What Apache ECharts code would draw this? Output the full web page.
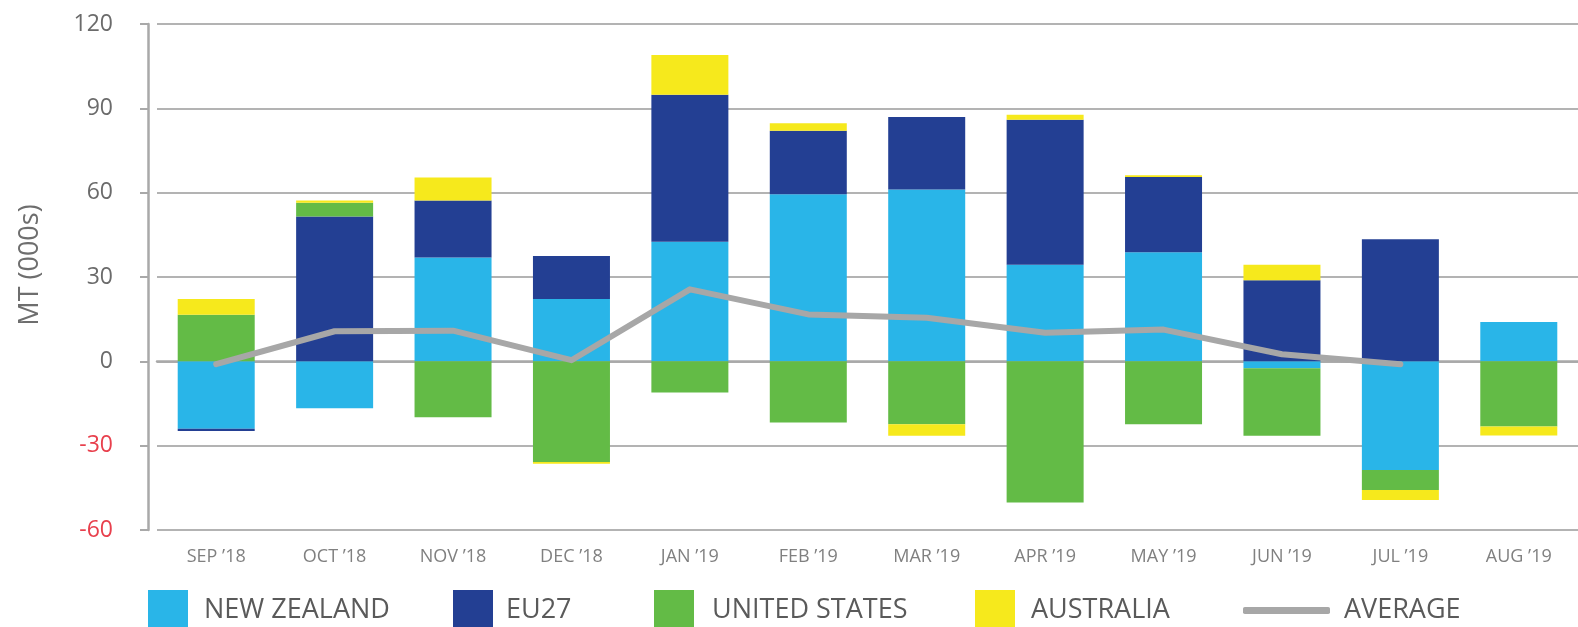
<!DOCTYPE html>
<html>
<head>
<meta charset="utf-8">
<script src="https://cdn.jsdelivr.net/npm/echarts@6/dist/echarts.min.js"></script>
<style>
  html, body { margin: 0; padding: 0; background: #fff; }
  #chart { width: 1578px; height: 627px; }
</style>
</head>
<body>
<div id="chart"></div>
<script>
// months on the x axis
var months = ['SEP ’18', 'OCT ’18', 'NOV ’18', 'DEC ’18', 'JAN ’19', 'FEB ’19',
  'MAR ’19', 'APR ’19', 'MAY ’19', 'JUN ’19', 'JUL ’19', 'AUG ’19']

// MT (000s)
var newZealand = [-24, -16.7, 36.9, 22.2, 42.5, 59.4, 61.1, 34.4, 38.8, -2.5, -38.7, 14]
var eu27 = [-0.8, 51.5, 20.3, 15.3, 52.3, 22.6, 25.8, 51.5, 26.8, 28.8, 43.4, 0]
var unitedStates = [16.6, 4.9, -19.9, -35.8, -11.1, -21.8, -22.4, -50.2, -22.4, -24, -7.1, -23.2]
var australia = [5.6, 0.8, 8.2, -0.6, 14.2, 2.7, -4.1, 1.8, 0.6, 5.6, -3.5, -3.2]
var average = [-1, 10.7, 10.9, 0.4, 25.6, 16.7, 15.5, 10.2, 11.3, 2.5, -1, null]

var yTicks = { min: -60, max: 120, interval: 30 }

var colors = {
  nz: '#29b5e8',
  eu: '#233f93',
  us: '#63bb46',
  au: '#f6e91c',
  avg: '#a7a7a7'
}

var font = 'Open Sans'
var gridColor = '#9a9a9a'

var chart = echarts.init(document.getElementById('chart'))

function legendItem(name, left, icon, w, h, top, pad) {
  return {
    data: [name],
    left: left,
    top: top,
    icon: icon,
    itemWidth: w,
    itemHeight: h,
    padding: 0,
    selectedMode: false,
    textStyle: {
      fontFamily: font,
      fontSize: 27,
      color: '#5a5a5a',
      padding: pad
    }
  }
}

chart.setOption({
  animation: false,
  grid: {
    left: 157,
    top: 24,
    width: 1430,
    bottom: 97,
    containLabel: false
  },
  legend: [
    legendItem('NEW ZEALAND', 148, 'rect', 40, 40, 590, [0, 0, 0, 11]),
    legendItem('EU27', 453, 'rect', 40, 40, 590, [0, 0, 0, 8]),
    legendItem('UNITED STATES', 654, 'rect', 40, 40, 590, [0, 0, 0, 13]),
    legendItem('AUSTRALIA', 975, 'rect', 40, 40, 590, [0, 0, 0, 11]),
    legendItem('AVERAGE', 1243, 'roundRect', 87, 7, 597, [0, 0, 0, 9])
  ],
  xAxis: {
    type: 'category',
    data: months,
    axisLine: { lineStyle: { color: '#a9a9a9', width: 2.5 } },
    axisTick: { show: false },
    axisLabel: {
      fontFamily: font,
      fontSize: 18,
      color: '#808080',
      margin: 18
    }
  },
  yAxis: [
    {
      type: 'value',
      min: yTicks.min,
      max: yTicks.max,
      interval: yTicks.interval,
      offset: 9,
      name: 'MT (000s)',
      nameLocation: 'middle',
      nameRotate: 90,
      nameGap: 104,
      nameTextStyle: {
        fontFamily: font,
        fontSize: 27,
        color: '#6e6e6e',
        padding: [0, 0, 0, 24]
      },
      axisLine: { show: true, lineStyle: { color: '#a9a9a9', width: 2.5 } },
      axisTick: { show: true, length: 8, lineStyle: { color: '#a9a9a9', width: 2 } },
      axisLabel: {
        fontFamily: font,
        fontSize: 23,
        margin: 35,
        color: function (v) {
          return v < 0 ? '#e8404d' : '#6b6b6b'
        }
      },
      splitLine: { lineStyle: { color: gridColor, width: 1.5 } }
    },
    {
      // fills the gap between axis line and the grid so gridlines reach the axis
      type: 'value',
      min: yTicks.min,
      max: yTicks.max,
      interval: yTicks.interval,
      offset: 9,
      axisLine: { show: false },
      axisTick: { show: true, inside: true, length: 9, lineStyle: { color: gridColor, width: 1.5 } },
      axisLabel: { show: false },
      splitLine: { show: false }
    }
  ],
  series: [
    {
      name: 'NEW ZEALAND',
      type: 'bar',
      stack: 'total',
      barWidth: 77,
      itemStyle: { color: colors.nz },
      data: newZealand
    },
    {
      name: 'EU27',
      type: 'bar',
      stack: 'total',
      barWidth: 77,
      itemStyle: { color: colors.eu },
      data: eu27
    },
    {
      name: 'UNITED STATES',
      type: 'bar',
      stack: 'total',
      barWidth: 77,
      itemStyle: { color: colors.us },
      data: unitedStates
    },
    {
      name: 'AUSTRALIA',
      type: 'bar',
      stack: 'total',
      barWidth: 77,
      itemStyle: { color: colors.au },
      data: australia
    },
    {
      name: 'AVERAGE',
      type: 'line',
      symbol: 'none',
      z: 5,
      itemStyle: { color: colors.avg },
      lineStyle: { color: colors.avg, width: 6, join: 'round', cap: 'round' },
      data: average
    }
  ]
})
</script>
</body>
</html>
